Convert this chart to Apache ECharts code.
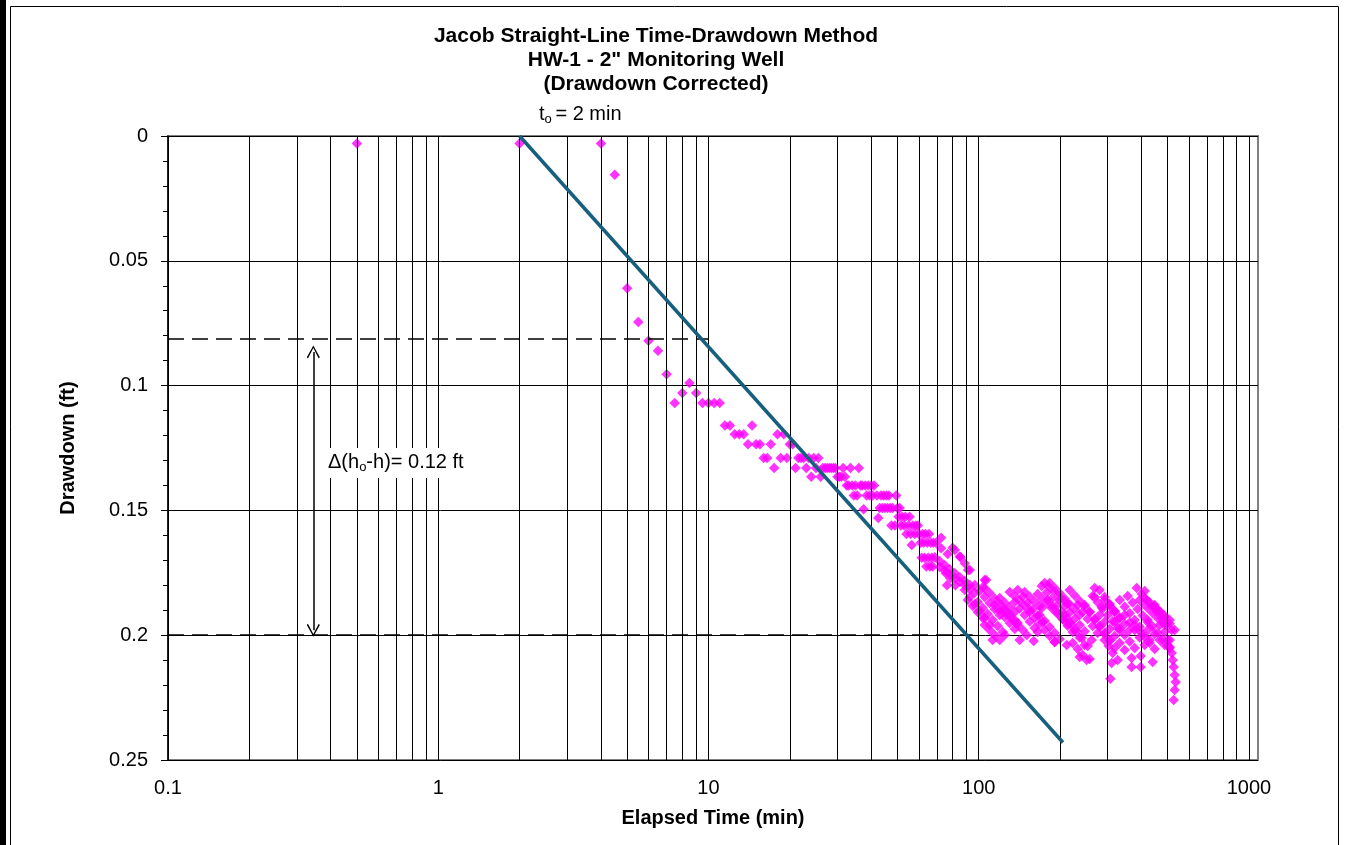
<!DOCTYPE html>
<html>
<head>
<meta charset="utf-8">
<script src="https://cdn.jsdelivr.net/npm/echarts@6/dist/echarts.min.js"></script>
<style>
  html, body { margin: 0; padding: 0; background: #fff; }
  #chart { width: 1345px; height: 845px; }
</style>
</head>
<body>
<div id="chart"></div>
<script>
const FONT = 'Liberation Sans, Arial, sans-serif'

// axis ticks
const xTickValues = [0.1, 1, 10, 100, 1000]
const decades = [0.1, 1, 10, 100]
const gridMults = [1, 2, 3, 4, 5, 6, 7, 8, 9]

// Jacob straight line and annotation values
const fitLine = [[2, 0], [205, 0.243]]
const upperDash = [[0.1, 0.0813], [10, 0.0813]]
const lowerDash = [[0.1, 0.2], [95, 0.2]]
const deltaArrow = [[0.345, 0.0865], [0.345, 0.198]]

// measured drawdown [elapsed min, ft]
const earlyPts = [
  [0.5, 0.003], [2, 0.003], [4, 0.003], [4.5, 0.0155], [5, 0.061], [5.5, 0.0745], [6, 0.082],
  [6.5, 0.086], [7, 0.0955], [7.5, 0.107], [8, 0.103], [8.5, 0.099], [9, 0.103], [9.5, 0.107],
  [10, 0.107], [10.5, 0.107], [11, 0.107]
]
const midPts = [
  [11.5, 0.116], [12, 0.116], [12.5, 0.1195], [13, 0.1195], [13.5, 0.1195], [14, 0.1235], [14.5, 0.116],
  [15, 0.1235], [15.5, 0.1235], [16, 0.129], [16.5, 0.129], [17, 0.1235], [17.5, 0.133], [18, 0.1195],
  [18.5, 0.129], [19, 0.1195], [19.5, 0.129], [20, 0.1235], [20.5, 0.1235], [21, 0.133], [21.5, 0.129],
  [22, 0.129], [22.5, 0.129], [23, 0.133], [23.5, 0.129], [24, 0.1365], [24.5, 0.129], [25, 0.133],
  [25.5, 0.129], [26, 0.1365], [26.5, 0.133], [27, 0.133], [27.5, 0.133], [28, 0.133], [28.5, 0.133],
  [29, 0.133], [29.5, 0.133], [30, 0.1365], [30.5, 0.1365], [31, 0.1365], [31.5, 0.133], [32, 0.1365],
  [32.5, 0.14], [33, 0.14], [33.5, 0.133], [34, 0.14], [34.5, 0.144], [35, 0.14], [35.5, 0.144],
  [36, 0.133], [36.5, 0.14], [37, 0.14], [37.5, 0.1495], [38, 0.14], [38.5, 0.144], [39, 0.14],
  [39.5, 0.144], [40, 0.14], [40.5, 0.144], [41, 0.14], [42, 0.144], [42.5, 0.153], [43, 0.149],
  [43.5, 0.144], [44, 0.149], [44.5, 0.144], [45, 0.149], [45.5, 0.144], [46, 0.149], [46.5, 0.144],
  [47, 0.149], [47.5, 0.156], [48, 0.149], [49, 0.156], [49.5, 0.144], [50, 0.149], [50.5, 0.1525],
  [51, 0.149], [51.5, 0.156], [52, 0.1525], [53, 0.156], [53.5, 0.1525], [54, 0.1595], [55, 0.156],
  [55.5, 0.1525], [56, 0.1595], [56.5, 0.1639], [57, 0.156], [58, 0.1595], [58.5, 0.156], [59.5, 0.156],
  [60, 0.1595], [61, 0.163], [61.5, 0.169], [62, 0.1595], [62.5, 0.163], [63, 0.169], [63.5, 0.1595],
  [64, 0.1725], [64.5, 0.163], [65, 0.169], [65.5, 0.1595], [66, 0.1725], [66.5, 0.163], [67, 0.169],
  [67.5, 0.1725], [68, 0.163], [69.5, 0.163]
]
const latePts = [
  [68.8, 0.1688], [71.8, 0.1704], [74.9, 0.172], [78.1, 0.1736], [81.6, 0.1752], [85.1, 0.1768], [88.8, 0.1783], [92.7, 0.1799],
  [71.8, 0.1727], [74.9, 0.1741], [78.1, 0.1756], [81.6, 0.1771], [85.1, 0.1786], [88.8, 0.1799], [92.7, 0.1815], [96.7, 0.183],
  [81.6, 0.1659], [85.1, 0.1685], [88.8, 0.1712], [92.7, 0.1739],
  [72.6, 0.161], [72.6, 0.1652], [76.8, 0.1675], [80, 0.165], [85.7, 0.1688], [91.3, 0.1739], [75.5, 0.1752],
  [78.5, 0.1772], [76.3, 0.18], [82, 0.18], [103.5, 0.1808], [106.5, 0.1779],
  [88.8, 0.1819], [92.7, 0.1847], [96.7, 0.1875], [100.9, 0.1903], [105.2, 0.1931], [109.8, 0.1959],
  [99.2, 0.1867], [103.5, 0.1891], [107.9, 0.1915], [112.6, 0.1939], [117.6, 0.1963], [122.7, 0.1987],
  [109.8, 0.1831], [114.6, 0.1853], [119.6, 0.1874], [124.8, 0.1896], [130.2, 0.1917], [135.9, 0.1939], [139.4, 0.1951],
  [119.6, 0.1851], [124.8, 0.187], [130.2, 0.1888], [135.9, 0.1907],
  [135.9, 0.1867], [141.8, 0.1893], [147.9, 0.1919], [154.4, 0.1945], [161.1, 0.1971], [165.3, 0.1987],
  [147.9, 0.1827], [154.4, 0.1846], [161.1, 0.1865], [168.1, 0.1883], [171, 0.1891],
  [165.3, 0.1835], [172.5, 0.1855], [180, 0.1875], [187.8, 0.1895], [196, 0.1915], [204.5, 0.1935], [213.4, 0.1955],
  [175.4, 0.1791], [183.1, 0.1809], [191, 0.1827], [199.3, 0.1846], [208, 0.1864], [213.4, 0.1875],
  [154.4, 0.1907], [161.1, 0.1931], [168.1, 0.1955], [175.4, 0.1979], [183.1, 0.2003], [191, 0.2027],
  [171, 0.1803], [178.4, 0.1829], [186.2, 0.1855], [194.3, 0.1881], [202.8, 0.1907], [211.6, 0.1933],
  [220.8, 0.1959], [230.4, 0.1985], [240.4, 0.2011], [253, 0.2043],
  [199.3, 0.1859], [208, 0.1884], [217.1, 0.1909], [226.5, 0.1934], [236.4, 0.1959], [246.6, 0.1984], [261.8, 0.2019],
  [208, 0.1919], [217.1, 0.1949], [226.5, 0.1979], [236.4, 0.2009], [246.6, 0.2039],
  [222.7, 0.2031], [232.4, 0.2055], [242.5, 0.2079], [250.9, 0.2099],
  [246.6, 0.1879], [257.4, 0.1907], [268.6, 0.1935], [280.2, 0.1963], [292.4, 0.1991], [305.2, 0.2019],
  [264.1, 0.1843], [275.6, 0.1868], [287.5, 0.1893], [300, 0.1919], [313.1, 0.1944], [326.7, 0.1969], [332.3, 0.1979],
  [280.2, 0.1919], [292.4, 0.1947], [305.2, 0.1975], [318.4, 0.2003], [332.3, 0.2031], [346.8, 0.2059],
  [292.4, 0.2019], [302.6, 0.2043], [313.1, 0.2071], [326.7, 0.2099],
  [332.3, 0.1859], [346.8, 0.1886], [361.9, 0.1912], [377.6, 0.1939], [394.1, 0.1966], [411.2, 0.1992], [429.1, 0.2019],
  [346.8, 0.1919], [361.9, 0.1949], [377.6, 0.1979], [394.1, 0.2009], [411.2, 0.2039],
  [384.1, 0.1811], [400.9, 0.1835], [418.4, 0.1859], [436.6, 0.1883], [455.6, 0.1907], [475.4, 0.1931], [496.1, 0.1955], [517.7, 0.1979],
  [394.1, 0.1859], [411.2, 0.1879], [429.1, 0.1899], [447.8, 0.1919], [467.3, 0.1939], [487.6, 0.1959],
  [421.9, 0.1939], [440.3, 0.1965], [459.5, 0.199], [479.5, 0.2016], [500.3, 0.2041], [508.9, 0.2051],
  [447.8, 0.1879], [467.3, 0.1904], [487.6, 0.1929], [508.9, 0.1954], [531, 0.1979],
  [500.3, 0.2019], [508.9, 0.2047], [517.7, 0.2071], [522.2, 0.2099], [526.6, 0.2127], [531, 0.2159],
  [535.6, 0.2187], [531, 0.222], [526.6, 0.226],
  [122.7, 0.1899], [128, 0.1919], [133.6, 0.1939], [139.4, 0.1959], [145.5, 0.1979], [150.6, 0.1999],
  [305.2, 0.1879], [318.4, 0.1904], [332.3, 0.1929], [346.8, 0.1954], [361.9, 0.1979],
  [91.1, 0.1859], [95.1, 0.1883], [99.2, 0.1907], [103.5, 0.1931],
  [180, 0.1859], [187.8, 0.1885], [196, 0.191], [204.5, 0.1936], [213.4, 0.1962], [222.7, 0.1987],
  [268.6, 0.1939], [280.2, 0.1967], [292.4, 0.1995], [305.2, 0.2023], [318.4, 0.2051],
  [355.8, 0.1843], [371.3, 0.1869], [387.4, 0.1895], [404.3, 0.1921], [421.9, 0.1947],
  [429.1, 0.1971], [447.8, 0.1995], [467.3, 0.2019], [487.6, 0.2039],
  [130.2, 0.1827], [135.9, 0.1845], [141.8, 0.1863], [147.9, 0.1881], [154.4, 0.1899],
  [217.1, 0.1819], [226.5, 0.1841], [236.4, 0.1863], [246.6, 0.1885], [257.4, 0.1907],
  [292.4, 0.1859], [305.2, 0.1883], [318.4, 0.1907], [332.3, 0.1931],
  [105.2, 0.1959], [109.8, 0.1979], [114.6, 0.1999], [119.6, 0.2019],
  [96.7, 0.1799], [100.9, 0.1823], [105.2, 0.1847], [109.8, 0.1871], [114.6, 0.1895], [119.6, 0.1919],
  [114.6, 0.1879], [119.6, 0.1903], [124.8, 0.1927], [130.2, 0.1951], [135.9, 0.1975],
  [139.4, 0.1819], [145.5, 0.1845], [151.8, 0.187], [158.4, 0.1896], [165.3, 0.1921], [172.5, 0.1947],
  [168.1, 0.1919], [175.4, 0.1943], [183.1, 0.1967], [191, 0.1991], [199.3, 0.2015],
  [191, 0.1811], [199.3, 0.1832], [208, 0.1854], [217.1, 0.1876], [226.5, 0.1897], [236.4, 0.1919],
  [232.4, 0.1879], [242.5, 0.1907], [253, 0.1935], [264.1, 0.1963], [275.6, 0.1991],
  [280.2, 0.1819], [292.4, 0.1847], [305.2, 0.1875], [318.4, 0.1903],
  [318.4, 0.1947], [332.3, 0.1973], [346.8, 0.1999], [361.9, 0.2025], [377.6, 0.2051],
  [377.6, 0.1959], [394.1, 0.1983], [411.2, 0.2007], [429.1, 0.2031], [447.8, 0.2055],
  [411.2, 0.1851], [429.1, 0.1869], [447.8, 0.1887], [467.3, 0.1905], [487.6, 0.1922], [508.9, 0.1939],
  [467.3, 0.1959], [487.6, 0.1987], [508.9, 0.2019],
  [112.6, 0.2019], [124.8, 0.1999], [141.8, 0.2019], [159.7, 0.2023], [191, 0.2027], [211.6, 0.2039],
  [236.4, 0.2087], [257.4, 0.2095], [307, 0.2174], [310.5, 0.2111], [368, 0.2091], [368, 0.2127],
  [397.5, 0.2127], [397.5, 0.2083], [440.3, 0.2107], [183.1, 0.1791], [268.6, 0.1811], [268.6, 0.1847],
  [285, 0.1887], [411.2, 0.1823], [105.2, 0.1779], [105.2, 0.1811]
]

const gridX = []
decades.forEach(function(d) {
  gridMults.forEach(function(m) { gridX.push(+(d * m).toPrecision(3)) })
})
gridX.push(1000)

// open arrow head, tip at top
const chevron = 'path://M0,0 L6,10 L5,11 L0,2.2 L-5,11 L-6,10 Z'

const chart = echarts.init(document.getElementById('chart'), null, { renderer: 'canvas' })

chart.setOption({
  animation: false,
  textStyle: { fontFamily: FONT },
  grid: {
    left: 168,
    right: 87,
    top: 136,
    bottom: 85,
    show: true,
    borderColor: '#808080',
    borderWidth: 2,
    backgroundColor: 'transparent'
  },
  xAxis: {
    type: 'log',
    logBase: 10,
    min: 0.1,
    max: 1080,
    name: 'Elapsed Time (min)',
    nameLocation: 'middle',
    nameGap: 48,
    nameTextStyle: { fontSize: 20, fontWeight: 'bold', color: '#000', fontFamily: FONT },
    axisLine: { show: false },
    axisTick: { show: true, length: 6, customValues: xTickValues, lineStyle: { color: '#000' } },
    axisLabel: {
      customValues: xTickValues,
      margin: 18,
      fontSize: 20,
      color: '#000',
      fontFamily: FONT,
      formatter: function(v) {
        const r = +(+v).toPrecision(3)
        return xTickValues.indexOf(r) >= 0 ? String(r) : ''
      }
    },
    splitLine: { show: false },
    minorTick: { show: false }
  },
  yAxis: {
    type: 'value',
    inverse: true,
    min: 0,
    max: 0.25,
    interval: 0.05,
    name: 'Drawdown (ft)',
    nameLocation: 'middle',
    nameGap: 90,
    nameRotate: 90,
    nameTextStyle: { fontSize: 20, fontWeight: 'bold', color: '#000', fontFamily: FONT },
    axisLine: { show: true, lineStyle: { color: '#000', width: 1.5 } },
    axisTick: { show: true, length: 7, lineStyle: { color: '#000' } },
    minorTick: { show: true, splitNumber: 5, length: 5, lineStyle: { color: '#000' } },
    axisLabel: { margin: 20, fontSize: 20, color: '#000', fontFamily: FONT },
    splitLine: { show: true, lineStyle: { color: '#000', width: 1 } }
  },
  graphic: [
    { type: 'rect', z: 100, shape: { x: 0, y: 0, width: 6, height: 845 }, style: { fill: '#000' } },
    { type: 'rect', z: 100, shape: { x: 10.5, y: 6.5, width: 1328, height: 850 }, style: { fill: null, stroke: '#000', lineWidth: 1 } },
    {
      type: 'text', z: 100, x: 656, y: 24,
      style: {
        text: 'Jacob Straight-Line Time-Drawdown Method\nHW-1 - 2" Monitoring Well\n(Drawdown Corrected)',
        fontFamily: FONT, fontSize: 21, fontWeight: 'bold', lineHeight: 24,
        textAlign: 'center', textVerticalAlign: 'top', fill: '#000'
      }
    },
    {
      type: 'text', z: 100, x: 539, y: 102,
      style: {
        text: '{n|t}{s|o }{n|= 2 min}',
        fontFamily: FONT, fill: '#000',
        rich: {
          n: { fontSize: 20, lineHeight: 24, fontFamily: FONT, fill: '#000' },
          s: { fontSize: 13, lineHeight: 13, verticalAlign: 'bottom', fontFamily: FONT, fill: '#000' }
        }
      }
    },
    { type: 'rect', z: 100, shape: { x: 322, y: 448, width: 183, height: 30 }, style: { fill: '#fff' } },
    {
      type: 'text', z: 101, x: 328, y: 450,
      style: {
        text: '{n|Δ(h}{s|o}{n|-h)= 0.12 ft}',
        fontFamily: FONT, fill: '#000',
        rich: {
          n: { fontSize: 20, lineHeight: 24, fontFamily: FONT, fill: '#000' },
          s: { fontSize: 13, lineHeight: 13, verticalAlign: 'bottom', fontFamily: FONT, fill: '#000' }
        }
      }
    }
  ],
  series: [
    {
      name: 'grid',
      type: 'line',
      data: [],
      silent: true,
      markLine: {
        silent: true,
        symbol: 'none',
        label: { show: false },
        emphasis: { disabled: true },
        lineStyle: { color: '#000', width: 1, type: 'solid' },
        data: gridX.map(function(v) { return { xAxis: v } })
      }
    },
    {
      name: 'Drawdown',
      type: 'scatter',
      symbol: 'diamond',
      symbolSize: 10.5,
      itemStyle: { color: '#ff00ff' },
      data: earlyPts.concat(midPts, latePts),
      z: 3
    },
    {
      name: 'annotations',
      type: 'line',
      data: [],
      silent: true,
      z: 4,
      markLine: {
        silent: true,
        label: { show: false },
        emphasis: { disabled: true },
        symbol: 'none',
        data: [
          [{ coord: upperDash[0], lineStyle: { color: '#000', width: 1.5, type: [16, 8] } }, { coord: upperDash[1] }],
          [{ coord: lowerDash[0], lineStyle: { color: '#000', width: 1.5, type: [16, 8] } }, { coord: lowerDash[1] }],
          [{ coord: deltaArrow[0], symbol: chevron, symbolSize: [13, 13], lineStyle: { color: '#000', width: 1.5, type: 'solid' } },
           { coord: deltaArrow[1], symbol: chevron, symbolSize: [13, 13] }]
        ]
      }
    },
    {
      name: 'Jacob fit',
      type: 'line',
      data: fitLine,
      showSymbol: false,
      symbol: 'none',
      lineStyle: { color: '#17607d', width: 3.5 },
      z: 5
    }
  ]
})
</script>
</body>
</html>
